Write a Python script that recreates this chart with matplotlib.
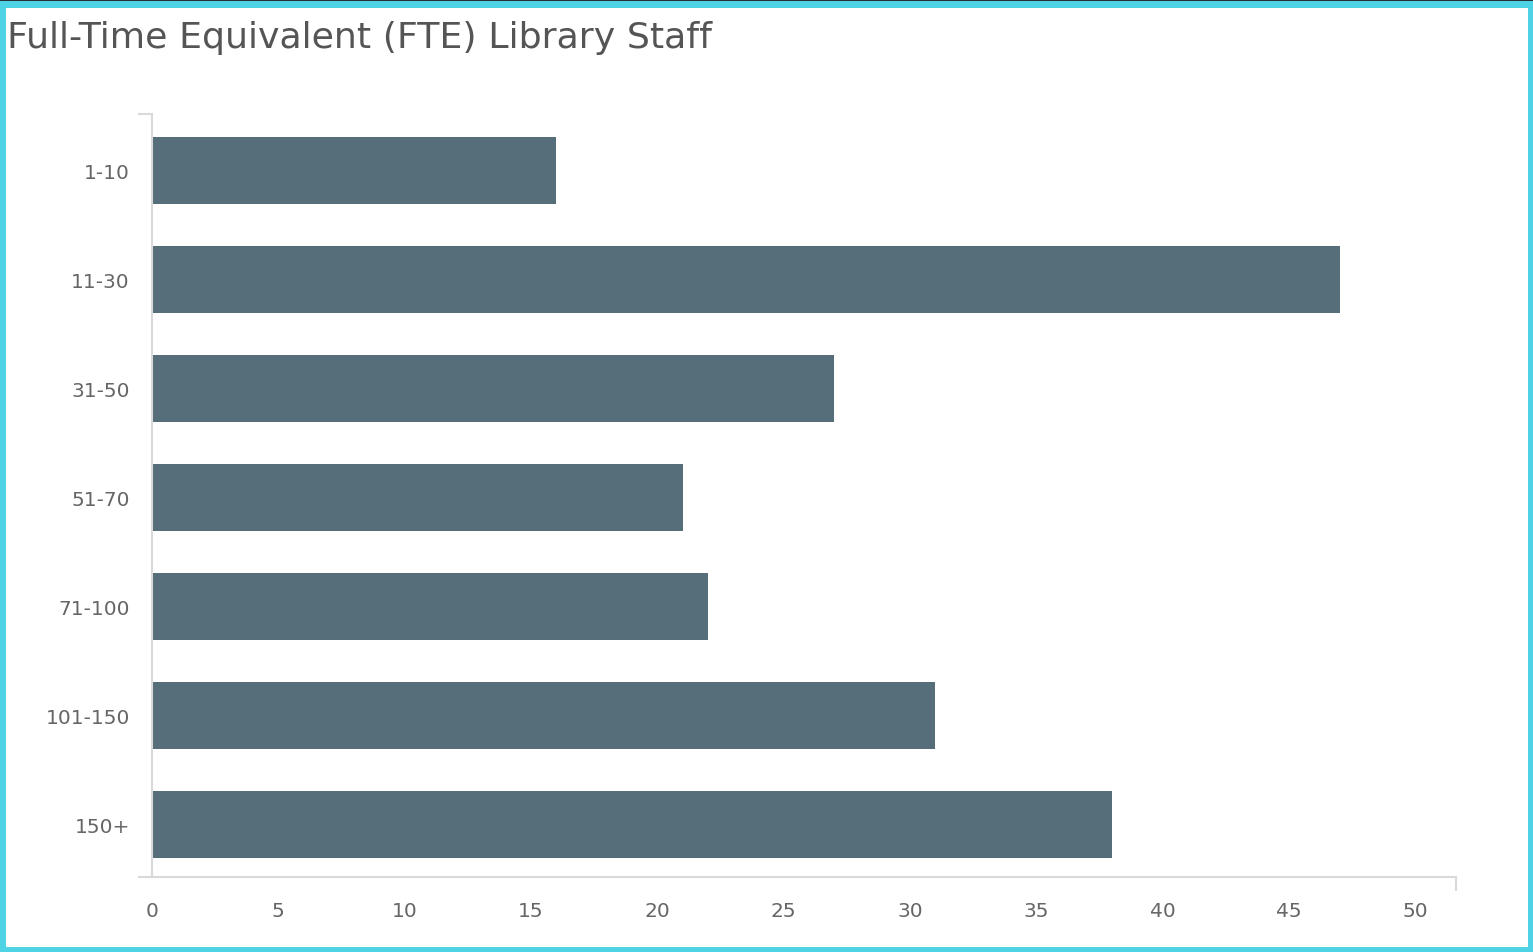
import matplotlib
matplotlib.use('Agg')
import matplotlib.pyplot as plt
from matplotlib.patches import Rectangle

# data
categories = ['1-10', '11-30', '31-50', '51-70', '71-100', '101-150', '150+']
staff_counts = [16, 47, 27, 21, 22, 31, 38]
xticks = [0, 5, 10, 15, 20, 25, 30, 35, 40, 45, 50]

bar_col = '#556e7a'
grid_col = '#d9d9d9'
txt_col = '#666666'

plt.rcParams['font.family'] = ['DejaVu Sans']

W, H = 1533, 953
fig = plt.figure(figsize=(W / 100, H / 100), dpi=100)
fig.patch.set_facecolor('#4dd3e3')
# white card inside the cyan frame, dark strip along the top
fig.add_artist(Rectangle((6 / W, 5 / H), (1528 - 6) / W, (944 - 5) / H,
                         transform=fig.transFigure, facecolor='white', edgecolor='none', zorder=0))
fig.add_artist(Rectangle((0, 951 / H), 1, 2 / H, transform=fig.transFigure,
                         facecolor='#263238', edgecolor='none', zorder=0))

ax = fig.add_axes([152 / W, 1 - 878 / H, (1456 - 152) / W, (878 - 115) / H])
ax.set_facecolor('none')

ypos = list(range(len(categories)))
ax.barh(ypos, staff_counts, height=0.62, color=bar_col, zorder=2)

ax.set_xlim(0, 51.6)
ax.set_ylim(len(categories) - 0.52, -0.52)

ax.set_yticks(ypos)
ax.set_yticklabels(categories)
ax.set_xticks(xticks)
ax.set_xticklabels([str(t) for t in xticks])

for s in ['top', 'right']:
    ax.spines[s].set_visible(False)
for s in ['left', 'bottom']:
    ax.spines[s].set_color(grid_col)
    ax.spines[s].set_linewidth(1.5)

ax.tick_params(which='major', length=0, labelsize=14.5, labelcolor=txt_col)
ax.tick_params(axis='y', which='major', pad=16)
ax.tick_params(axis='x', which='major', pad=17)
# little end ticks at both ends of each axis line
ax.set_xticks([0, 51.6], minor=True)
ax.set_yticks([len(categories) - 0.52, -0.52], minor=True)
ax.tick_params(which='minor', length=10, width=1.5, color=grid_col)

fig.text(7 / W, 1 - 38 / H, 'Full-Time Equivalent (FTE) Library Staff',
         fontsize=26.2, color='#555555', va='center', ha='left')

fig.savefig('out.png', dpi=100)
